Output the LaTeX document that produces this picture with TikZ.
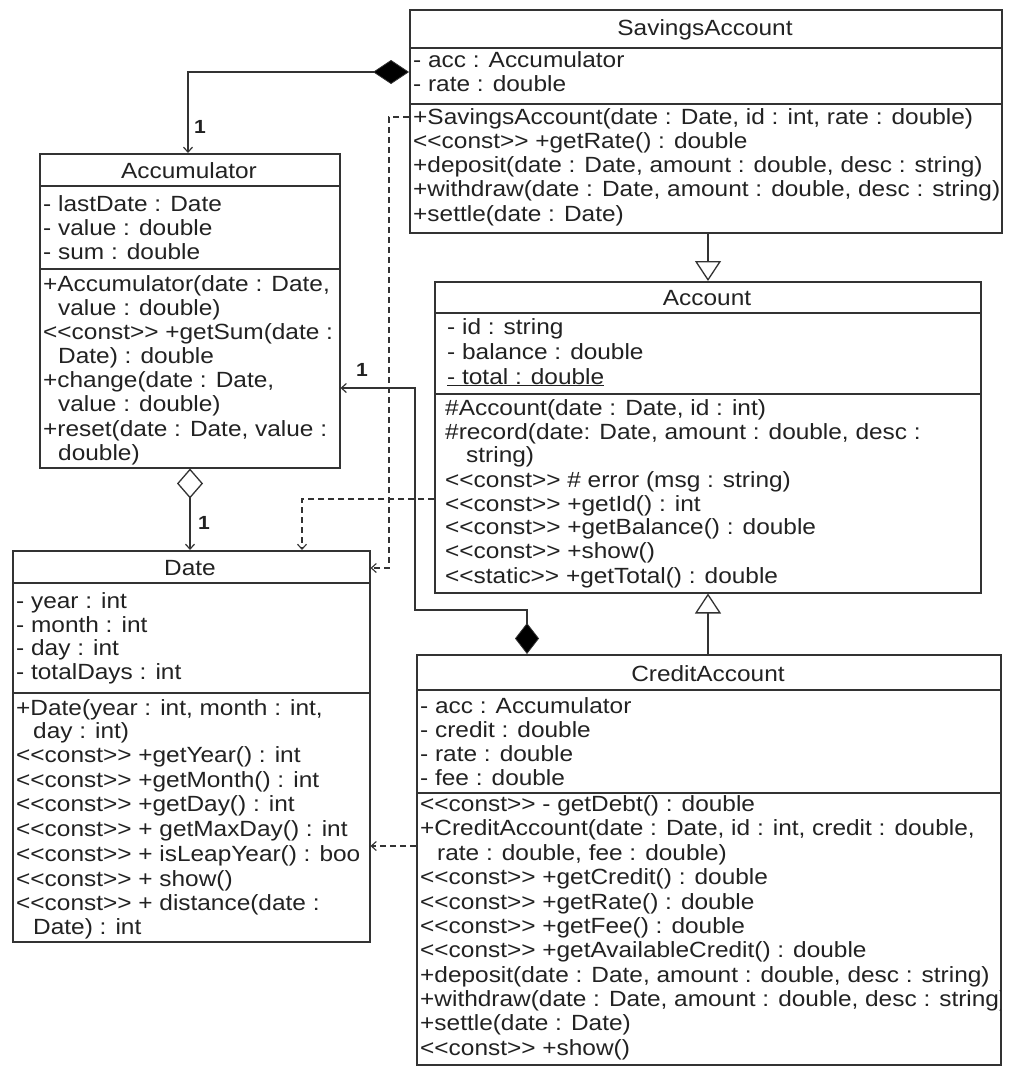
\documentclass[tikz,border=0pt]{standalone}
\usepackage{fontspec}
\setmainfont{Liberation Sans}[FakeStretch=1.11, Ligatures=TeXOff]
\usetikzlibrary{arrows.meta,calc}
\definecolor{linec}{HTML}{333333}
\definecolor{textc}{HTML}{222222}
\newcommand\umlline[4]{\node[txt] (#1) at (#2,#3+7) {#4};}
\newcommand\umldiv[3]{\draw[conn] ($(#1.north west)+(0,#2)$) coordinate (#3a) -- ($(#1.north east)+(0,#2)$) coordinate (#3b);}
\newcommand\boxclip[1]{\clip ($(#1.north west)+(1,1)$) rectangle ($(#1.south east)+(-1,-1)$);}
\begin{document}
\begin{tikzpicture}[x=1pt,y=-1pt,
  umlbox/.style={draw=linec, line width=1.5pt, anchor=north west, inner sep=0pt, fill=white},
  txt/.style={anchor=base west, inner sep=0pt, text=textc, font=\fontsize{22}{24}\selectfont},
  ttl/.style={anchor=base, inner sep=0pt, text=textc, font=\fontsize{22}{24}\selectfont},
  mult/.style={anchor=center, inner sep=0pt, text=textc, font=\fontsize{19}{21}\selectfont\bfseries},
  conn/.style={draw=linec, line width=1.5pt},
  dep/.style={conn, line width=1.3pt, dash pattern=on 6pt off 4pt, -{Straight Barb[length=5pt,width=9pt,line width=1.1pt]}},
  compo/.style={conn, {Diamond[length=#1,width=24pt,fill=black,line width=0.8pt]}-{Straight Barb[length=5pt,width=9pt,line width=1.2pt]}},
  aggr/.style={conn, {Diamond[open,length=30pt,width=26pt,fill=white,line width=1.3pt]}-{Straight Barb[length=5pt,width=9pt,line width=1.2pt]}},
  gener/.style={conn, -{Triangle[open,length=20pt,width=26pt,fill=white,line width=1.3pt]}}
]
\useasboundingbox[fill=white] (0,0) rectangle (1021,1076);

% ---------- boxes ----------
\node[umlbox, minimum width=592pt, minimum height=223pt] (sav) at (409,9) {};
\node[umlbox, minimum width=300pt, minimum height=314pt] (acc) at (39,153) {};
\node[umlbox, minimum width=546pt, minimum height=311pt] (account) at (434,281) {};
\node[umlbox, minimum width=357pt, minimum height=391pt] (date) at (12,550) {};
\node[umlbox, minimum width=584pt, minimum height=410pt] (cred) at (416,654) {};

% ---------- dividers ----------
\umldiv{sav}{39}{sd1}
\umldiv{sav}{95}{sd2}
\umldiv{acc}{33}{ad1}
\umldiv{acc}{116}{ad2}
\umldiv{account}{32}{cd1}
\umldiv{account}{113}{cd2}
\umldiv{date}{33}{dd1}
\umldiv{date}{143}{dd2}
\umldiv{cred}{36}{rd1}
\umldiv{cred}{139}{rd2}

% ---------- SavingsAccount ----------
\begin{scope}
\boxclip{sav}
\node[ttl] (savT) at (705,35) {SavingsAccount};
\umlline{sa1}{413}{60}{- acc : Accumulator}
\umlline{sa2}{413}{84}{- rate : double}
\umlline{sm1}{413}{117}{+SavingsAccount(date : Date, id : int, rate : double)}
\umlline{sm2}{413}{141}{<<const>> +getRate() : double}
\umlline{sm3}{413}{165}{+deposit(date : Date, amount : double, desc : string)}
\umlline{sm4}{413}{189}{+withdraw(date : Date, amount : double, desc : string)}
\umlline{sm5}{413}{214}{+settle(date : Date)}
\end{scope}

% ---------- Accumulator ----------
\begin{scope}
\boxclip{acc}
\node[ttl] (accT) at (189,178) {Accumulator};
\umlline{aa1}{43}{204}{- lastDate : Date}
\umlline{aa2}{43}{228}{- value : double}
\umlline{aa3}{43}{252}{- sum : double}
\umlline{am1}{43}{284}{+Accumulator(date : Date,}
\umlline{am2}{58}{308}{value : double)}
\umlline{am3}{43}{332}{<<const>> +getSum(date :}
\umlline{am4}{58}{356}{Date) : double}
\umlline{am5}{43}{380}{+change(date : Date,}
\umlline{am6}{58}{404}{value : double)}
\umlline{am7}{43}{429}{+reset(date : Date, value :}
\umlline{am8}{58}{453}{double)}
\end{scope}

% ---------- Account ----------
\begin{scope}
\boxclip{account}
\node[ttl] (accountT) at (707,305) {Account};
\umlline{ca1}{447}{327}{- id : string}
\umlline{ca2}{447}{352}{- balance : double}
\umlline{ca3}{447}{377}{\underline{- total : double}}
\umlline{cm1}{445}{408}{\#Account(date : Date, id : int)}
\umlline{cm2}{445}{432}{\#record(date: Date, amount : double, desc :}
\umlline{cm3}{466}{455}{string)}
\umlline{cm4}{445}{480}{<<const>> \# error (msg : string)}
\umlline{cm5}{445}{504}{<<const>> +getId() : int}
\umlline{cm6}{445}{527}{<<const>> +getBalance() : double}
\umlline{cm7}{445}{551}{<<const>> +show()}
\umlline{cm8}{445}{576}{<<static>> +getTotal() : double}
\end{scope}

% ---------- Date ----------
\begin{scope}
\boxclip{date}
\node[ttl] (dateT) at (190,575) {Date};
\umlline{da1}{16}{601}{- year : int}
\umlline{da2}{16}{625}{- month : int}
\umlline{da3}{16}{648}{- day : int}
\umlline{da4}{16}{672}{- totalDays : int}
\umlline{dm1}{16}{708}{+Date(year : int, month : int,}
\umlline{dm2}{33}{731}{day : int)}
\umlline{dm3}{16}{755}{<<const>> +getYear() : int}
\umlline{dm4}{16}{780}{<<const>> +getMonth() : int}
\umlline{dm5}{16}{804}{<<const>> +getDay() : int}
\umlline{dm6}{16}{829}{<<const>> + getMaxDay() : int}
\umlline{dm7}{16}{854}{<<const>> + isLeapYear() : boo}
\umlline{dm8}{16}{879}{<<const>> + show()}
\umlline{dm9}{16}{903}{<<const>> + distance(date :}
\umlline{dm10}{33}{927}{Date) : int}
\end{scope}

% ---------- CreditAccount ----------
\begin{scope}
\boxclip{cred}
\node[ttl] (credT) at (708,681) {CreditAccount};
\umlline{ra1}{420}{706}{- acc : Accumulator}
\umlline{ra2}{420}{730}{- credit : double}
\umlline{ra3}{420}{754}{- rate : double}
\umlline{ra4}{420}{778}{- fee : double}
\umlline{rm1}{420}{804}{<<const>> - getDebt() : double}
\umlline{rm2}{420}{828}{+CreditAccount(date : Date, id : int, credit : double,}
\umlline{rm3}{437}{853}{rate : double, fee : double)}
\umlline{rm4}{420}{877}{<<const>> +getCredit() : double}
\umlline{rm5}{420}{902}{<<const>> +getRate() : double}
\umlline{rm6}{420}{926}{<<const>> +getFee() : double}
\umlline{rm7}{420}{950}{<<const>> +getAvailableCredit() : double}
\umlline{rm8}{420}{975}{+deposit(date : Date, amount : double, desc : string)}
\umlline{rm9}{420}{999}{+withdraw(date : Date, amount : double, desc : string)}
\umlline{rm10}{420}{1023}{+settle(date : Date)}
\umlline{rm11}{420}{1048}{<<const>> +show()}
\end{scope}

% ---------- connectors ----------
% SavingsAccount composes Accumulator
\draw[compo=36pt] ($(sav.north west)+(0,63)$) -| ($(acc.north west)+(149,0)$);
\node[mult] (m1) at (200,127) {1};
% Accumulator aggregates Date
\draw[aggr] ($(acc.south west)+(151,0)$) -- ($(date.north west)+(178,0)$);
\node[mult] (m2) at (204,523) {1};
% CreditAccount composes Accumulator
\coordinate (k1) at (415,610);
\coordinate (k2) at (415,388);
\draw[compo=31pt] ($(cred.north west)+(111,0)$) |- (k1) -- (k2) -- (acc.east |- k2);
\node[mult] (m3) at (362,370) {1};
% dependencies on Date
\coordinate (d1) at (389,117);
\coordinate (d2) at (389,568);
\draw[dep] ($(sav.north west)+(0,108)$) -- (d1) -- (d2) -- (date.east |- d2);
\coordinate (d3) at (302,499);
\draw[dep] ($(account.north west)+(0,218)$) -- (d3) -- (d3 |- date.north);
\draw[dep] ($(cred.north west)+(0,192)$) -- (date.east |- 0,846);
% generalizations
\draw[gener] ($(sav.south west)+(299,0)$) -- ($(account.north west)+(274,0)$);
\draw[gener] ($(cred.north west)+(292,0)$) -- ($(account.south west)+(274,0)$);
\end{tikzpicture}
\end{document}
